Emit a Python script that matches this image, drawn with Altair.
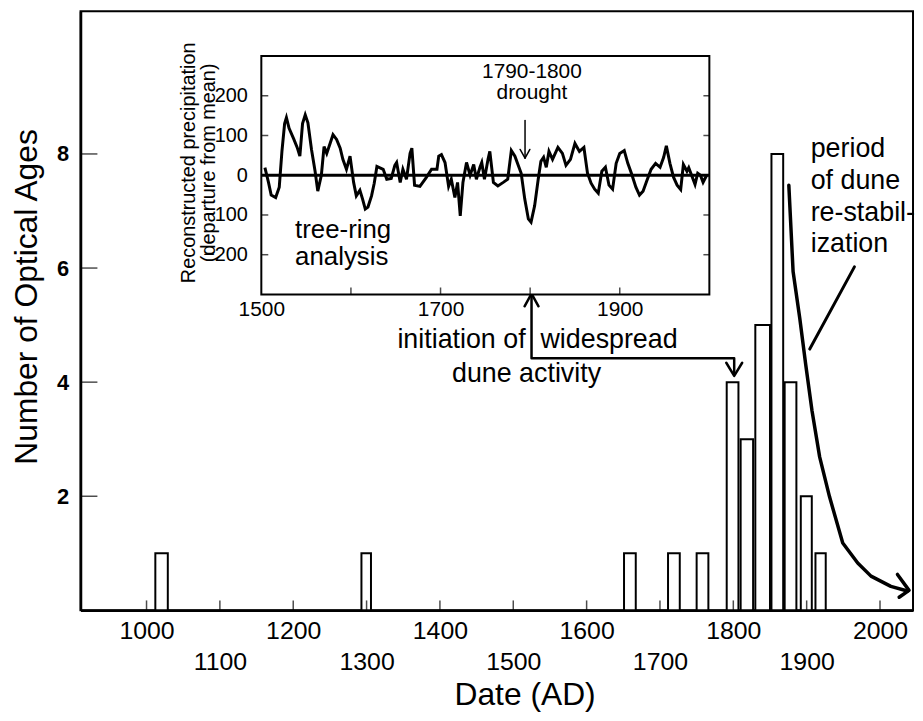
import altair as alt
import pandas as pd

FONT = "Liberation Sans"

# ---------------- main histogram data ----------------
bin_start = [1012, 1293, 1651, 1711, 1750, 1791, 1810, 1830, 1852, 1870, 1892, 1912]
bin_end = [1029, 1306, 1667, 1727, 1766, 1807, 1827, 1850, 1868, 1886, 1907, 1926]
age_counts = [1, 1, 1, 1, 1, 4, 3, 5, 8, 4, 2, 1]

x_ticks = [1000, 1100, 1200, 1300, 1400, 1500, 1600, 1700, 1800, 1900, 2000]
y_ticks = [2, 4, 6, 8]
main_x_domain = [910, 2045]
main_y_domain = [0, 10.5]

# ---------------- inset (tree-ring precipitation) ----------------
prec_years = [1504, 1508, 1511, 1516, 1520, 1523, 1526, 1528, 1531, 1536, 1540, 1543, 1546,
              1549, 1552, 1556, 1560, 1563, 1567, 1570, 1573, 1577, 1580, 1584, 1588, 1591,
              1595, 1599, 1603, 1606, 1610, 1613, 1616, 1619, 1623, 1626, 1629, 1633, 1636,
              1640, 1645, 1649, 1651, 1655, 1658, 1662, 1666, 1668, 1671, 1677, 1684, 1690,
              1696, 1698, 1701, 1705, 1709, 1712, 1716, 1719, 1722, 1725, 1729, 1733, 1737,
              1740, 1744, 1746, 1749, 1753, 1755, 1759, 1764, 1770, 1775, 1779, 1783, 1787,
              1790, 1794, 1798, 1801, 1805, 1809, 1812, 1815, 1818, 1821, 1825, 1831, 1836,
              1840, 1845, 1850, 1855, 1860, 1864, 1868, 1872, 1876, 1880, 1884, 1888, 1892,
              1896, 1900, 1905, 1909, 1913, 1918, 1922, 1926, 1930, 1935, 1940, 1945, 1949,
              1952, 1956, 1960, 1964, 1968, 1971, 1975, 1977, 1981, 1984, 1987, 1990, 1993,
              1997]
prec_vals = [19, -18, -50, -56, -30, 60, 130, 145, 118, 92, 70, 48, 130,
             152, 132, 65, 10, -40, 0, 72, 55, 82, 102, 90, 68, 40,
             15, 48, -18, -52, -38, -60, -85, -80, -52, -20, 22, 18, 15,
             -10, -8, 25, 32, -18, 15, -10, 55, 68, -25, -28, -6, 15,
             15, 48, 52, 32, -28, -10, -56, -18, -102, -18, 32, 0, 27,
             -10, 20, 32, -10, 40, 60, -18, -27, -18, -10, 62, 48, 23,
             5, -60, -110, -118, -77, -10, 35, 45, 20, 60, 40, 70, 55,
             25, 40, 80, 60, 70, 5, -20, -35, -45, 10, 20, -25, -35,
             30, 55, 62, 30, 5, -30, -50, -40, -15, 15, 30, 20, 45,
             74, 30, -5, -25, -36, 27, 10, 19, -5, -23, 5, 0, -18,
             0]
inset_x_domain = [1500, 2000]
inset_y_domain = [-300, 300]
inset_x_ticks = [1600, 1700, 1800, 1900]
inset_x_labels = [1500, 1700, 1900]
inset_y_ticks = [-200, -100, 100, 200]
inset_y_labels = [200, 100, 0, -100, -200]

# ---------------- annotation geometry (data units) ----------------
curve_x = [1875.7, 1881.5, 1890.6, 1898.7, 1907.3, 1917.7, 1931.2, 1949.2, 1969.6, 1987.7, 2014.8, 2037.3]
curve_y = [7.45, 5.94, 5.12, 4.31, 3.50, 2.69, 1.99, 1.18, 0.83, 0.60, 0.42, 0.34]
curve_head_x = [2023.8, 2039.6, 2026.1]
curve_head_y = [0.63, 0.35, 0.23]
pointer_x = [1904.2, 1965.1]
pointer_y = [4.58, 6.02]
init_x = [1524.9, 1524.9, 1801.2, 1801.2]
init_y = [5.54, 4.42, 4.42, 4.14]
up_head_x = [1515.4, 1524.9, 1534.4]
up_head_y = [5.33, 5.55, 5.33]
down_head_x = [1790.4, 1801.2, 1812.1]
down_head_y = [4.34, 4.11, 4.34]
drought_x = [1794.3, 1794.3]
drought_y = [138, 43]
drought_head_x = [1788.8, 1794.3, 1799.7]
drought_head_y = [65, 43, 65]

W, H = 838, 603
xs = alt.Scale(domain=main_x_domain, nice=False, zero=False)
ys = alt.Scale(domain=main_y_domain, nice=False, zero=False)
ixs = alt.Scale(domain=inset_x_domain, range=[182, 633], nice=False, zero=False)
iys = alt.Scale(domain=inset_y_domain, range=[285, 45], nice=False, zero=False)


def path_chart(xv, yv, width, xsc, ysc):
    df = pd.DataFrame({"x": xv, "y": yv, "i": list(range(len(xv)))})
    return alt.Chart(df).mark_line(color="black", strokeWidth=width, strokeCap="round",
                                   strokeJoin="round").encode(
        x=alt.X("x:Q", scale=xsc), y=alt.Y("y:Q", scale=ysc), order="i:Q")


def text_chart(txt, xv, yv, xsc, ysc, size, align="left", lh=30):
    df = pd.DataFrame({"x": [xv], "y": [yv], "t": [txt]})
    return alt.Chart(df).mark_text(align=align, baseline="top", fontSize=size, font=FONT,
                                   color="black", lineBreak="\n", lineHeight=lh).encode(
        x=alt.X("x:Q", scale=xsc), y=alt.Y("y:Q", scale=ysc), text="t:N")


bars_df = pd.DataFrame({"start": bin_start, "end": bin_end, "count": age_counts,
                        "base": [main_y_domain[0]] * len(age_counts)})
bars = alt.Chart(bars_df).mark_rect(fill="white", stroke="black", strokeWidth=2).encode(
    x=alt.X("start:Q", scale=xs, axis=alt.Axis(
        values=x_ticks, format="d", title="Date (AD)", ticks=False, tickSize=0, grid=False,
        domainWidth=2.5, labelFontSize=25, labelFlush=False, labelOverlap=False,
        labelPadding={"condition": {"test": "datum.value % 200 != 0", "value": 40}, "value": 8},
        titleFontSize=32, titleFontWeight="normal", titleX=447, titleY=85,
        titleAlign="center", titleBaseline="middle")),
    x2="end:Q",
    y=alt.Y("count:Q", scale=ys, axis=alt.Axis(
        values=y_ticks, format="d", title="Number of Optical Ages", ticks=False, tickSize=0,
        grid=False, domainWidth=2.5, labelFontSize=22, labelFontWeight="bold", labelPadding=12,
        titleFontSize=32, titleFontWeight="normal", titleX=-54, titleY=287, titleAngle=-90,
        titleAlign="center", titleBaseline="middle")),
    y2="base:Q",
)

xt = alt.Chart(pd.DataFrame({"v": x_ticks, "b": main_y_domain[0]})).mark_tick(
    orient="vertical", size=10, thickness=1.5, color="black", yOffset=-5).encode(
    x=alt.X("v:Q", scale=xs), y=alt.Y("b:Q", scale=ys))
yt = alt.Chart(pd.DataFrame({"v": y_ticks, "l": main_x_domain[0]})).mark_tick(
    orient="horizontal", size=17, thickness=1.5, color="black", xOffset=8.5).encode(
    x=alt.X("l:Q", scale=xs), y=alt.Y("v:Q", scale=ys))

main = alt.layer(
    bars, xt, yt,
    path_chart(curve_x, curve_y, 3.5, xs, ys),
    path_chart(curve_head_x, curve_head_y, 3.5, xs, ys),
    path_chart(pointer_x, pointer_y, 3, xs, ys),
    path_chart(init_x, init_y, 2.5, xs, ys),
    path_chart(up_head_x, up_head_y, 2.5, xs, ys),
    path_chart(down_head_x, down_head_y, 2.5, xs, ys),
    text_chart("period\nof dune\nre-stabil-\nization", 1905.5, 8.31, xs, ys, 27, lh=32),
    text_chart("initiation of", 1516.8, 4.97, xs, ys, 27, align="right"),
    text_chart("widespread", 1537.1, 4.97, xs, ys, 27),
    text_chart("dune activity", 1416.5, 4.37, xs, ys, 27),
)

frame_df = pd.DataFrame({"x1": [inset_x_domain[0]], "x2": [inset_x_domain[1]],
                         "y1": [inset_y_domain[0]], "y2": [inset_y_domain[1]]})
frame = alt.Chart(frame_df).mark_rect(fill="white", stroke="black", strokeWidth=2).encode(
    x=alt.X("x1:Q", scale=ixs, axis=alt.Axis(
        orient="bottom", offset=-(H - 285), values=inset_x_labels, format="d", domain=False,
        ticks=False, tickSize=0, grid=False, labelFontSize=21, labelPadding=4,
        labelFlush=False, title=None)),
    x2="x2:Q",
    y=alt.Y("y1:Q", scale=iys, axis=alt.Axis(
        orient="left", offset=-182, values=inset_y_labels, domain=False, ticks=False,
        tickSize=0, grid=False, labelFontSize=20, labelPadding=14,
        title=["Reconstructed precipitation", "(departure from mean)"],
        titleFontSize=20, titleFontWeight="normal", titleX=-73, titleY=152, titleAngle=-90,
        titleAlign="center", titleBaseline="middle", titleLineHeight=20)),
    y2="y2:Q",
)
zero_df = pd.DataFrame({"x1": [inset_x_domain[0]], "x2": [inset_x_domain[1]], "y": [0]})
zero_line = alt.Chart(zero_df).mark_rule(color="black", strokeWidth=3).encode(
    x=alt.X("x1:Q", scale=ixs), x2="x2:Q", y=alt.Y("y:Q", scale=iys))
prec_df = pd.DataFrame({"year": prec_years, "val": prec_vals})
prec_line = alt.Chart(prec_df).mark_line(color="black", strokeWidth=3, strokeJoin="miter").encode(
    x=alt.X("year:Q", scale=ixs), y=alt.Y("val:Q", scale=iys))
ixt = alt.Chart(pd.DataFrame({"v": inset_x_ticks, "b": inset_y_domain[0]})).mark_tick(
    orient="vertical", size=7, thickness=1.5, color="black", yOffset=-3.5).encode(
    x=alt.X("v:Q", scale=ixs), y=alt.Y("b:Q", scale=iys))
iylt = alt.Chart(pd.DataFrame({"v": inset_y_ticks, "l": inset_x_domain[0]})).mark_tick(
    orient="horizontal", size=7, thickness=1.5, color="black", xOffset=3.5).encode(
    x=alt.X("l:Q", scale=ixs), y=alt.Y("v:Q", scale=iys))
iyrt = alt.Chart(pd.DataFrame({"v": inset_y_ticks, "r": inset_x_domain[1]})).mark_tick(
    orient="horizontal", size=6, thickness=1.5, color="black", xOffset=-3).encode(
    x=alt.X("r:Q", scale=ixs), y=alt.Y("v:Q", scale=iys))

inset = alt.layer(
    frame, zero_line, prec_line, ixt, iylt, iyrt,
    path_chart(drought_x, drought_y, 1.5, ixs, iys),
    path_chart(drought_head_x, drought_head_y, 1.5, ixs, iys),
    text_chart("1790-1800\ndrought", 1802, 288, ixs, iys, 21, align="center", lh=21),
    text_chart("tree-ring\nanalysis", 1537.7, -106, ixs, iys, 26, lh=27),
)

chart = alt.layer(main, inset).resolve_scale(
    x="independent", y="independent"
).properties(
    width=W, height=H,
    autosize=alt.AutoSizeParams(type="none"),
    padding={"left": 73, "top": 1, "right": 2, "bottom": 105},
).configure_view(
    stroke="black", strokeWidth=2
).configure_axis(
    labelFont=FONT, titleFont=FONT, labelColor="black", titleColor="black",
    domainColor="black"
)

chart.save("out.html", embed_options={"renderer": "svg", "actions": False})
